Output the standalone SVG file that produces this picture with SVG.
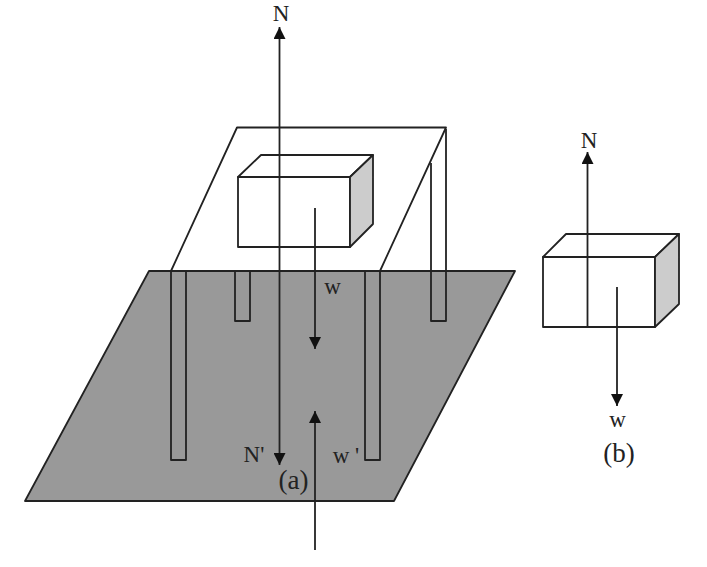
<svg xmlns="http://www.w3.org/2000/svg" width="707" height="567" viewBox="0 0 707 567">
<defs>
<marker id="arrow" markerUnits="userSpaceOnUse" markerWidth="12" markerHeight="12" refX="12" refY="6" orient="auto"><path d="M0 0L12 6L0 12Z" fill="#111"/></marker>
<style>
.l{fill:none;stroke:#222;stroke-width:1.8;stroke-linejoin:round}
.w{fill:#fff;stroke:#222;stroke-width:1.8;stroke-linejoin:round}
.s{fill:#ccc;stroke:#222;stroke-width:1.8;stroke-linejoin:round}
.c{fill:none;stroke:#222;stroke-width:1.8;marker-end:url(#arrow)}
text{font-family:"Liberation Serif","Times New Roman",serif;fill:#222;font-size:23px;text-anchor:middle}
.b{font-size:27px}
</style>
</defs>
<rect width="707" height="567" fill="#fff"/>
<g id="ground"><path d="M149 271H515L394 501H25Z" fill="#999" stroke="#222" stroke-width="1.8" stroke-linejoin="round"/></g>
<g id="table">
<path class="w" d="M237 127.5H446L380 271H171Z"/>
<path class="l" d="M171 271V460H186V271M365 271V460H380V271M235 271V321H250V271M431 163V321H446V129"/>
</g>
<g id="box-a">
<path class="w" d="M238 177H350V247H238Z"/>
<path class="w" d="M238 177L261 155H373L350 177Z"/>
<path class="s" d="M350 177L373 155V224L350 247Z"/>
</g>
<g id="box-b">
<path class="w" d="M543 257H655V327H543Z"/>
<path class="w" d="M543 257L566 234H679L655 257Z"/>
<path class="s" d="M655 257L679 234V304L655 327Z"/>
</g>
<g id="connectors">
<path class="c" d="M279.500 270V27"/>
<path class="c" d="M279.500 270V465"/>
<path class="c" d="M315 208V349"/>
<path class="c" d="M315 550V411"/>
<path class="c" d="M587.500 327V152"/>
<path class="c" d="M617 287V406"/>
</g>
<g id="labels">
<text x="281" y="21">N</text>
<text x="332.500" y="294">w</text>
<text x="254" y="462">N'</text>
<text x="346" y="463">w '</text>
<text class="b" x="293.500" y="489">(a)</text>
<text x="589" y="148">N</text>
<text x="617.500" y="427">w</text>
<text class="b" x="619" y="462">(b)</text>
</g>
</svg>
